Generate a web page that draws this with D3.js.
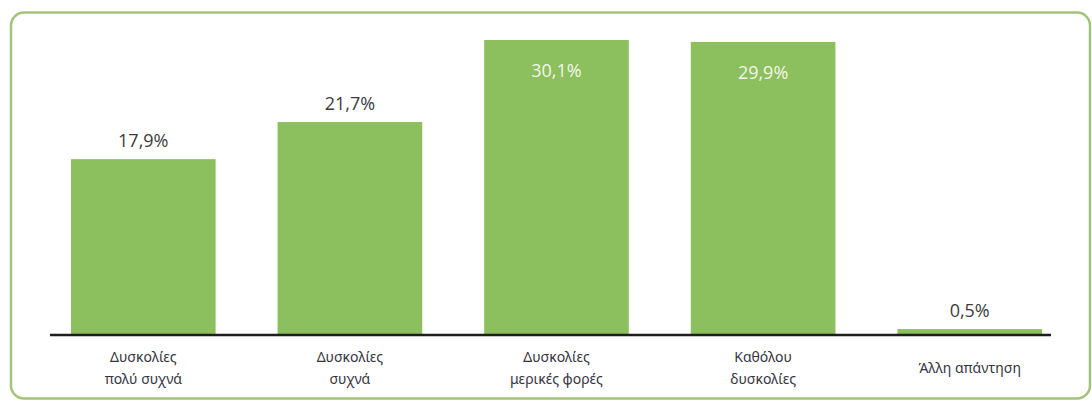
<!DOCTYPE html>
<html>
<head>
<meta charset="utf-8">
<script src="https://cdn.jsdelivr.net/npm/d3@7"></script>
<style>
  html, body { margin: 0; padding: 0; background: #ffffff; }
  svg { display: block; }
</style>
</head>
<body>
<svg id="chart" width="1092" height="401"></svg>
<script>
// Survey answers: how often difficulties occur
const categories = [
  ["Δυσκολίες", "πολύ συχνά"],
  ["Δυσκολίες", "συχνά"],
  ["Δυσκολίες", "μερικές φορές"],
  ["Καθόλου", "δυσκολίες"],
  ["Άλλη απάντηση"]
];
const values = [17.9, 21.7, 30.1, 29.9, 0.5];
const valueLabels = ["17,9%", "21,7%", "30,1%", "29,9%", "0,5%"];

const svg = d3.select("#chart");
const baseY = 334;

// Rounded green frame around the chart
svg.append("rect")
  .attr("x", 11).attr("y", 12.5)
  .attr("width", 1079).attr("height", 386)
  .attr("rx", 13).attr("ry", 13)
  .attr("fill", "#ffffff")
  .attr("stroke", "#a3c27a")
  .attr("stroke-width", 2.5);

const idx = values.map((_, i) => i);

const x = d3.scaleBand()
  .domain(idx)
  .range([40, 1073])
  .paddingInner(0.3)
  .paddingOuter(0.15);

const y = d3.scaleLinear()
  .domain([0, 30.1])
  .range([baseY, 40]);

// Bars
svg.append("g").selectAll("rect")
  .data(idx)
  .join("rect")
  .attr("x", i => x(i))
  .attr("y", i => y(values[i]))
  .attr("width", x.bandwidth())
  .attr("height", i => baseY - y(values[i]))
  .attr("fill", "#8cbf5e");

// Baseline
svg.append("line")
  .attr("x1", 50).attr("x2", 1051)
  .attr("y1", baseY + 1).attr("y2", baseY + 1)
  .attr("stroke", "#1e1e1e")
  .attr("stroke-width", 2.5);

// Value labels: inside the tallest bars, above the others
const inside = v => v > 25;
svg.append("g").selectAll("text")
  .data(idx)
  .join("text")
  .attr("x", i => x(i) + x.bandwidth() / 2)
  .attr("y", i => inside(values[i]) ? y(values[i]) + 37 : y(values[i]) - 12)
  .attr("text-anchor", "middle")
  .attr("font-family", "'Open Sans', 'Noto Sans', sans-serif")
  .attr("font-size", 18)
  .attr("fill", i => inside(values[i]) ? "#f3f6e8" : "#3c3c3c")
  .text(i => valueLabels[i]);

// Category labels under the baseline
const catG = svg.append("g");
idx.forEach(i => {
  const lines = categories[i];
  const cx = x(i) + x.bandwidth() / 2;
  const t = catG.append("text")
    .attr("x", cx)
    .attr("text-anchor", "middle")
    .attr("font-family", "'Noto Sans', 'Open Sans', sans-serif")
    .attr("font-size", 14)
    .attr("fill", "#35353f");
  if (lines.length === 1) {
    t.append("tspan").attr("x", cx).attr("y", 373).text(lines[0]);
  } else {
    lines.forEach((s, k) => {
      t.append("tspan").attr("x", cx).attr("y", 362 + k * 22).text(s);
    });
  }
});
</script>
</body>
</html>
